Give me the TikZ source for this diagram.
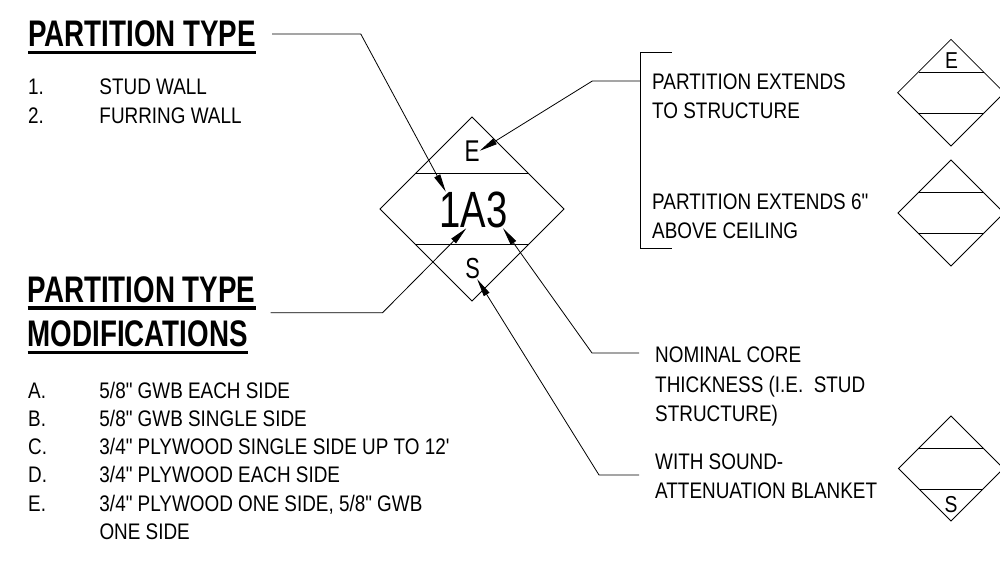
\documentclass[tikz,border=0pt]{standalone}
\usepackage{fontspec}
\newfontfamily\cadfont{Liberation Sans}[FakeStretch=0.84,Ligatures=TeXOff]
\newfontfamily\narrowfont{Liberation Sans}[FakeStretch=0.75,Ligatures=TeXOff]
\usetikzlibrary{arrows.meta}

\begin{document}
\begin{tikzpicture}[x=1pt, y=-1pt, >={Triangle[length=18pt,width=6.5pt]},
  leader/.style={line width=0.8pt, ->},
  head/.style={font=\narrowfont\bfseries\fontsize{37}{44}\selectfont, inner sep=0pt, anchor=base west},
  uline/.style={line width=3.5pt},
  txt/.style={font=\cadfont\fontsize{22.5}{28.3}\selectfont, inner sep=0pt, anchor=base west},
  rtxt/.style={txt, font=\cadfont\fontsize{22.5}{29.5}\selectfont},
  tagtxt/.style={font=\narrowfont\fontsize{#1}{#1}\selectfont, inner sep=0pt},
  smalltxt/.style={font=\cadfont\fontsize{23}{23}\selectfont, inner sep=0pt},
  walltag/.pic={
    \draw[line width=0.8pt] (0,-1) -- (1,0) -- (0,1) -- (-1,0) -- cycle;
    \draw[line width=0.8pt] (-0.61,-0.39) -- (0.61,-0.39);
    \draw[line width=0.8pt] (-0.61,0.39) -- (0.61,0.39);
  }]
\clip (0,0) rectangle (1000,573);

% partition type heading and list
\node[head] (ptype) at (28,46.7) {PARTITION TYPE};
\draw[uline] ([yshift=-6pt]ptype.base west) -- ([yshift=-6pt]ptype.base east);
\node[txt] (typelist) at (28,94.7) {\begin{tabular}[t]{@{}p{71.3pt}@{}l@{}}
  1. & STUD WALL\\
  2. & FURRING WALL
\end{tabular}};

% modifications heading and list
\node[head] (ptmodA) at (27.5,302) {PARTITION TYPE\ };
\node[head] (ptmodB) at (27.5,346.5) {MODIFICATIONS};
\draw[uline] ([yshift=-6pt]ptmodA.base west) -- ([yshift=-6pt]ptmodA.base east);
\draw[uline] ([yshift=-6pt]ptmodB.base west) -- ([yshift=-6pt]ptmodB.base east);
\node[txt] (modlist) at (28,398) {\begin{tabular}[t]{@{}p{71.3pt}@{}l@{}}
  A. & 5/8" GWB EACH SIDE\\
  B. & 5/8" GWB SINGLE SIDE\\
  C. & 3/4" PLYWOOD SINGLE SIDE UP TO 12'\\
  D. & 3/4" PLYWOOD EACH SIDE\\
  E. & 3/4" PLYWOOD ONE SIDE, 5/8" GWB\\
     & ONE SIDE
\end{tabular}};

% the tag in the middle
\pic[scale=92] at (472,209) {walltag};
\node[tagtxt=30] (tagE) at (472,150.8) {E};
\node[tagtxt=51] (code) at (473.3,210) {1A3};
\node[tagtxt=29] (tagS) at (472.7,268.7) {S};

% notes on the right
\coordinate (brk) at (640,81);
\draw[line width=0.8pt] (671.7,52) -- (640,52) -- (640,248) -- (671.7,248);
\node[rtxt] (extstruct) at (652,89) {\begin{tabular}[t]{@{}l@{}}PARTITION EXTENDS\\TO STRUCTURE\end{tabular}};
\node[rtxt] (extceil) at (652,209) {\begin{tabular}[t]{@{}l@{}}PARTITION EXTENDS 6"\\ABOVE CEILING\end{tabular}};
\node[rtxt] (nominal) at (655,362.5) {\begin{tabular}[t]{@{}l@{}}NOMINAL CORE\\THICKNESS (I.E.\ \ STUD\\STRUCTURE)\end{tabular}};
\node[rtxt] (sound) at (655,469) {\begin{tabular}[t]{@{}l@{}}WITH SOUND-\\ATTENUATION BLANKET\end{tabular}};

% small tags
\pic[scale=53.3] at (951,92.7) {walltag};
\node[smalltxt] (smallE) at (951.5,61) {E};
\pic[scale=53] at (951,213) {walltag};
\pic[scale=52.5] at (951,468.5) {walltag};
\node[smalltxt] (smallS) at (951,505) {S};

% leaders
\draw[leader] ([xshift=16pt]ptype.east) -- ++(88.7,0) -- ([xshift=6.7pt]code.north west);
\draw[leader] ([shift={(15,10.7)}]ptmodA.base east) -- ++(112,0) -- ([xshift=-7pt]code.south);
\draw[leader] (brk) -- ++(-47.7,0) -- (tagE.east);
\draw[leader] ([shift={(-16,-9.5)}]nominal.base west) -- ++(-47,0) -- ([xshift=-4.5pt]code.south east);
\draw[leader] ([shift={(-16,6)}]sound.base west) -- ++(-40,0) -- ([xshift=-3pt]tagS.south east);

\end{tikzpicture}
\end{document}
